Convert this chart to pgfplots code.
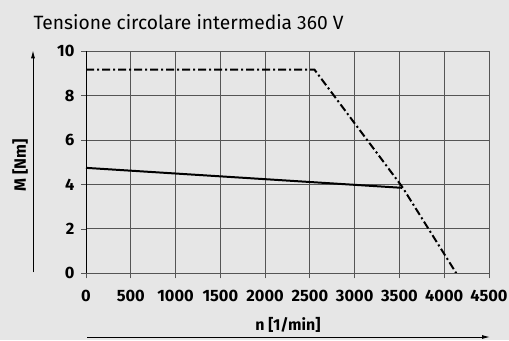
\documentclass[border=0pt]{standalone}
\usepackage{pgfplots}
\pgfplotsset{compat=1.18}
\usetikzlibrary{arrows.meta}
\usepackage{fontspec}
\setmainfont{Fira Sans}
\definecolor{bg}{HTML}{E6E6E6}
\definecolor{gridc}{HTML}{555555}
\begin{document}
\begin{tikzpicture}[x=1bp,y=1bp]
\fill[bg] (-86,-66.7) rectangle (423,273.3);
\useasboundingbox (-86,-66.7) rectangle (423,273.3);
\begin{axis}[
  at={(0,0)}, anchor=south west,
  scale only axis, width=403bp, height=222bp,
  xmin=0, xmax=4500, ymin=0, ymax=10,
  xtick={0,500,...,4500}, ytick={0,2,...,10},
  grid=major,
  major grid style={gridc, line width=0.9pt},
  axis line style={black, line width=0.9pt},
  axis x line*=bottom, axis y line*=left,
  tick align=outside, major tick length=5bp,
  tick style={gridc, line width=0.8pt},
  /pgf/number format/assume math mode=true,
  /pgf/number format/set thousands separator={},
  ticklabel style={font=\fontsize{16.5}{18}\selectfont\bfseries},
  xticklabel style={yshift=-8bp},
  yticklabel style={xshift=-3bp},
  clip=false,
]
\addplot[black, line width=2pt] coordinates {(0,4.75) (3530,3.85)};
\addplot[black, line width=2pt, dash pattern=on 8bp off 3bp on 2bp off 3bp] coordinates {(0,9.18) (2550,9.18) (3530,3.9) (4135,0)};
\draw[line width=1.6pt, gridc] (axis cs:0,0) -- (axis cs:4500,0);
\draw[line width=1pt, black] (axis cs:0,0) -- (axis cs:0,10);
\end{axis}
\node[anchor=base west, font=\fontsize{19.3}{21}\selectfont] at (-56,244) {Tensione circolare intermedia 360 V};
\draw[-{Latex[length=8bp,width=4bp]}, line width=0.9pt] (-53,1) -- (-53,223);
\draw[-{Latex[length=8bp,width=4bp]}, line width=0.9pt] (1,-63.7) -- (404,-63.7);
\node[rotate=90, font=\fontsize{16.5}{18}\selectfont\bfseries] at (-66,108) {M [Nm]};
\node[font=\fontsize{16}{18}\selectfont\bfseries] at (202,-52) {n [1/min]};
\end{tikzpicture}
\end{document}
